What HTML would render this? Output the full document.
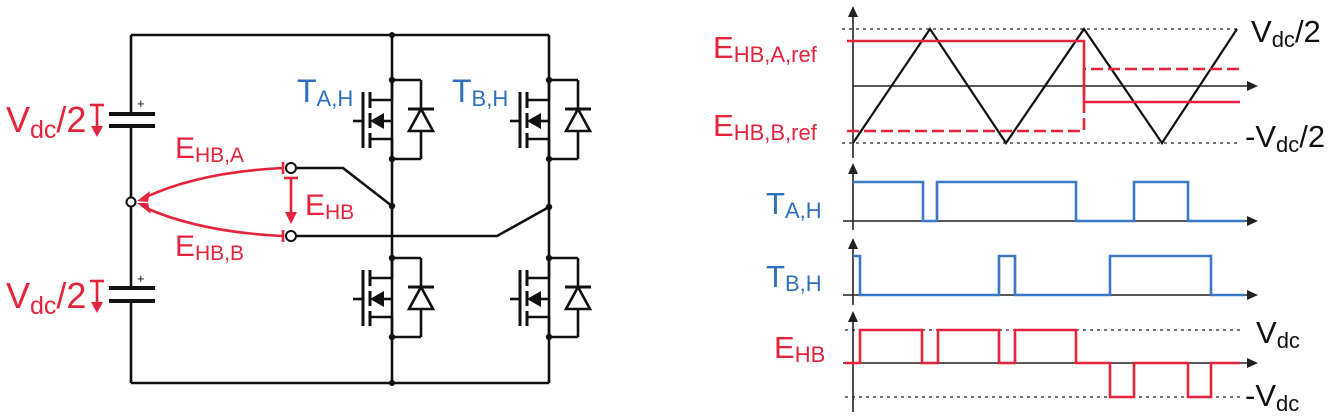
<!DOCTYPE html>
<html><head><meta charset="utf-8"><style>
html,body{margin:0;padding:0;background:#fff;}
svg{display:block;}
text{font-family:"Liberation Sans",sans-serif;}
</style></head><body>
<svg width="1344" height="420" viewBox="0 0 1344 420" xmlns="http://www.w3.org/2000/svg">
<defs>
<g id="mos" stroke="#111" stroke-width="2.6" fill="none">
  <line x1="0" y1="0" x2="29" y2="0"/>
  <line x1="29" y1="0" x2="29" y2="79"/>
  <line x1="0" y1="79" x2="29" y2="79"/>
  <path d="M17,51 L41,51 L29,29 Z" fill="#fff"/>
  <line x1="16" y1="29" x2="42" y2="29" stroke-width="3"/>
  <line x1="0" y1="20" x2="-22" y2="20"/>
  <line x1="0" y1="20" x2="0" y2="0"/>
  <line x1="0" y1="59" x2="-22" y2="59"/>
  <line x1="0" y1="59" x2="0" y2="79"/>
  <line x1="0" y1="41" x2="-8" y2="41"/>
  <line x1="-29" y1="12" x2="-29" y2="68" stroke-width="3"/>
  <line x1="-22" y1="12" x2="-22" y2="28" stroke-width="3"/>
  <line x1="-22" y1="33" x2="-22" y2="48" stroke-width="3"/>
  <line x1="-22" y1="53" x2="-22" y2="68" stroke-width="3"/>
  <line x1="-39" y1="41" x2="-29" y2="41"/>
  <path d="M-22,41 L-8,33 L-8,49 Z" fill="#111" stroke="none"/>
  <circle cx="0" cy="0" r="3.2" fill="#111" stroke="none"/>
  <circle cx="0" cy="79" r="3.2" fill="#111" stroke="none"/>
</g>
</defs>

<!-- LEFT CIRCUIT -->
<g stroke="#111" stroke-width="2.6" fill="none">
  <line x1="131" y1="35" x2="549" y2="35"/>
  <line x1="131" y1="383" x2="549" y2="383"/>
  <line x1="131" y1="35" x2="131" y2="114"/>
  <line x1="131" y1="126" x2="131" y2="288"/>
  <line x1="131" y1="301" x2="131" y2="383"/>
  <line x1="392" y1="35" x2="392" y2="383"/>
  <line x1="549" y1="35" x2="549" y2="383"/>
  <line x1="109" y1="114" x2="155" y2="114" stroke-width="4"/>
  <line x1="109" y1="126" x2="155" y2="126" stroke-width="4"/>
  <line x1="109" y1="288" x2="155" y2="288" stroke-width="4"/>
  <line x1="109" y1="301" x2="155" y2="301" stroke-width="4"/>
  <polyline points="296,168 343,168 392,206"/>
  <polyline points="296,236 497,236 549,207"/>
</g>
<text x="137" y="108" font-size="13" fill="#111">+</text>
<text x="137" y="283" font-size="13" fill="#111">+</text>
<circle cx="392" cy="35" r="3" fill="#111"/>
<circle cx="392" cy="383" r="3" fill="#111"/>
<circle cx="392" cy="206" r="3.2" fill="#111"/>
<circle cx="549" cy="207" r="3.2" fill="#111"/>
<use href="#mos" x="392" y="80"/>
<use href="#mos" x="392" y="258"/>
<use href="#mos" x="549" y="80"/>
<use href="#mos" x="549" y="258"/>
<circle cx="131" cy="202" r="4.5" fill="#fff" stroke="#111" stroke-width="2"/>
<circle cx="291" cy="168" r="5" fill="#fff" stroke="#111" stroke-width="2"/>
<circle cx="291" cy="236" r="5" fill="#fff" stroke="#111" stroke-width="2"/>

<g stroke="#e5243b" stroke-width="2.6" fill="none">
  <line x1="283" y1="162" x2="283" y2="174"/>
  <line x1="283" y1="230" x2="283" y2="242"/>
  <path d="M283,168 Q200,172 146,197"/>
  <path d="M283,236 Q200,232 146,208"/>
  <line x1="284" y1="178" x2="298" y2="178"/>
  <line x1="291" y1="178" x2="291" y2="214"/>
  <line x1="90" y1="105" x2="104" y2="105"/>
  <line x1="97" y1="105" x2="97" y2="128"/>
  <line x1="90" y1="281" x2="104" y2="281"/>
  <line x1="97" y1="281" x2="97" y2="304"/>
</g>
<g fill="#e5243b">
  <path d="M137,201 L150,191 L148,202 Z"/>
  <path d="M137,203 L148,203 L151,214 Z"/>
  <path d="M285,212 L297,212 L291,224 Z"/>
  <path d="M91,126 L103,126 L97,137 Z"/>
  <path d="M91,302 L103,302 L97,313 Z"/>
</g>
<g fill="#e5243b" font-size="36">
  <text x="6" y="132">V<tspan font-size="25" dy="6">dc</tspan><tspan dy="-6">/2</tspan></text>
  <text x="6" y="308">V<tspan font-size="25" dy="6">dc</tspan><tspan dy="-6">/2</tspan></text>
  <text x="175" y="158" font-size="30">E<tspan font-size="21" dy="4">HB,A</tspan></text>
  <text x="175" y="256" font-size="30">E<tspan font-size="21" dy="4">HB,B</tspan></text>
  <text x="305" y="215" font-size="30">E<tspan font-size="21" dy="4">HB</tspan></text>
</g>
<g fill="#2f6fbf" font-size="32">
  <text x="297" y="102">T<tspan font-size="22" dy="4">A,H</tspan></text>
  <text x="452" y="102">T<tspan font-size="22" dy="4">B,H</tspan></text>
</g>

<!-- RIGHT PLOTS -->
<g stroke="#222" stroke-width="1.2" stroke-dasharray="3,4" fill="none">
  <line x1="842" y1="29" x2="1237" y2="29"/>
  <line x1="842" y1="143" x2="1237" y2="143"/>
  <line x1="845" y1="330" x2="1240" y2="330"/>
  <line x1="845" y1="397" x2="1240" y2="397"/>
</g>
<g stroke="#222" stroke-width="1.6" fill="none">
  <line x1="853" y1="10" x2="853" y2="158"/>
  <line x1="853" y1="86" x2="1252" y2="86"/>
  <line x1="853" y1="167" x2="853" y2="230"/>
  <line x1="843" y1="221" x2="1252" y2="221"/>
  <line x1="853" y1="242" x2="853" y2="305"/>
  <line x1="843" y1="295" x2="1252" y2="295"/>
  <line x1="853" y1="315" x2="853" y2="412"/>
  <line x1="843" y1="363" x2="1252" y2="363"/>
  <polyline points="853,143 930,29 1006,143 1084,29 1162,143 1237,29" stroke="#111" stroke-width="2.2"/>
</g>
<g fill="#222">
  <path d="M853,6 L848,17 L858,17 Z"/>
  <path d="M853,163 L848,174 L858,174 Z"/>
  <path d="M853,238 L848,249 L858,249 Z"/>
  <path d="M853,311 L848,322 L858,322 Z"/>
  <path d="M1258,86 L1247,81 L1247,91 Z"/>
  <path d="M1258,221 L1247,216 L1247,226 Z"/>
  <path d="M1258,295 L1247,290 L1247,300 Z"/>
  <path d="M1258,363 L1247,358 L1247,368 Z"/>
</g>
<g stroke="#e5243b" stroke-width="2.6" fill="none">
  <polyline points="847,41 1084,41 1084,102 1240,102"/>
  <polyline points="847,131 1084,131 1084,69 1240,69" stroke-dasharray="12,5"/>
  <polyline points="845,363 860,363 860,330 922,330 922,363 938,363 938,330 999,330 999,363 1015,363 1015,330 1076,330 1076,363 1110,363 1110,397 1134,397 1134,363 1188,363 1188,397 1211,397 1211,363 1240,363"/>
</g>
<g stroke="#3a78c8" stroke-width="2.6" fill="none">
  <polyline points="853,182 923,182 923,221 937,221 937,182 1076,182 1076,221 1134,221 1134,182 1188,182 1188,221 1245,221"/>
  <polyline points="853,256 860,256 860,295 999,295 999,256 1015,256 1015,295 1110,295 1110,256 1211,256 1211,295 1245,295"/>
</g>
<g fill="#e5243b" font-size="31">
  <text x="713" y="58">E<tspan font-size="22" dy="4">HB,A,ref</tspan></text>
  <text x="713" y="136">E<tspan font-size="22" dy="4">HB,B,ref</tspan></text>
  <text x="774" y="358">E<tspan font-size="22" dy="4">HB</tspan></text>
</g>
<g fill="#2f6fbf" font-size="31">
  <text x="766" y="214">T<tspan font-size="22" dy="4">A,H</tspan></text>
  <text x="766" y="287">T<tspan font-size="22" dy="4">B,H</tspan></text>
</g>
<g fill="#111" font-size="31">
  <text x="1251" y="42">V<tspan font-size="22" dy="5">dc</tspan><tspan dy="-5">/2</tspan></text>
  <text x="1245" y="147">-V<tspan font-size="22" dy="5">dc</tspan><tspan dy="-5">/2</tspan></text>
  <text x="1256" y="343">V<tspan font-size="22" dy="5">dc</tspan></text>
  <text x="1245" y="406">-V<tspan font-size="22" dy="5">dc</tspan></text>
</g>
</svg>
</body></html>
